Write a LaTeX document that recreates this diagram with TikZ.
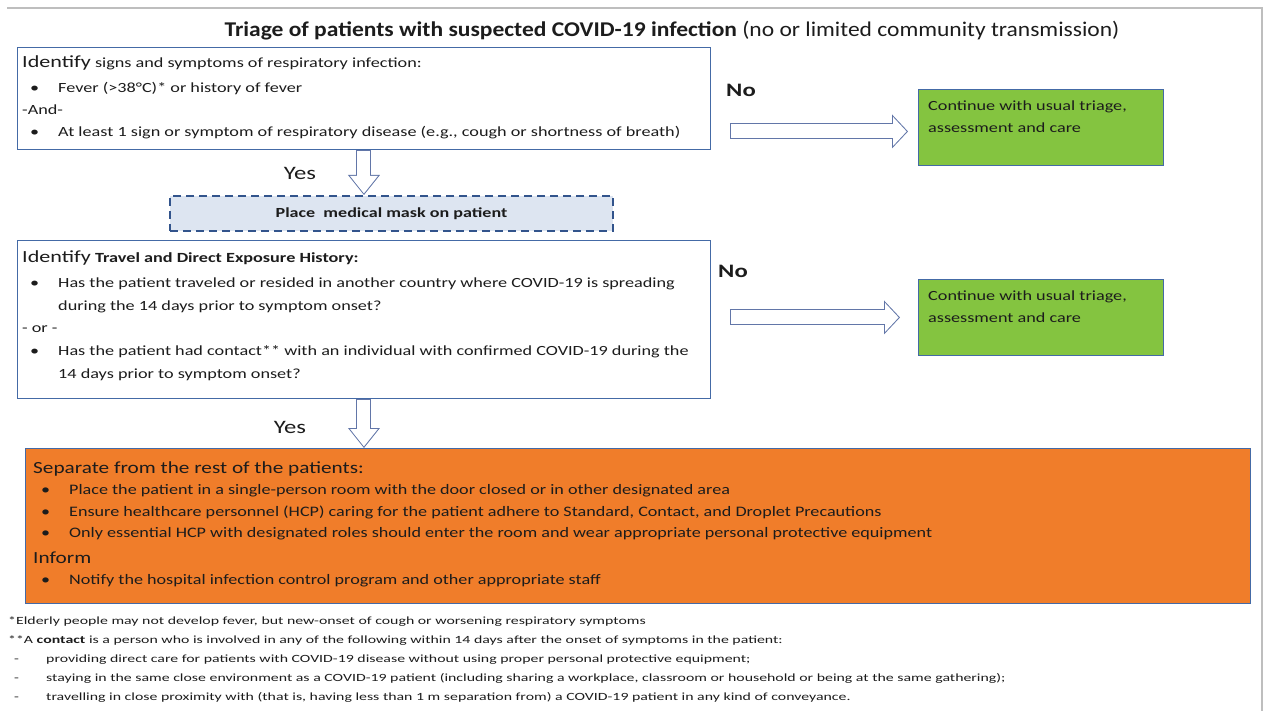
\documentclass[tikz,border=0pt]{standalone}
\usepackage{fontspec}
\setmainfont{Carlito}[FakeStretch=1.3]
\newfontfamily\titlefont{Carlito}[FakeStretch=1.12]
\newfontfamily\sepfont{Carlito}[FakeStretch=1.25]
\newfontfamily\notefont{Carlito}[FakeStretch=1.44]
\usetikzlibrary{arrows.meta,positioning,calc}
\definecolor{edgeblue}{RGB}{68,106,166}
\definecolor{maskblue}{RGB}{50,84,140}
\definecolor{maskfill}{RGB}{221,229,241}
\definecolor{okgreen}{RGB}{132,196,64}
\definecolor{sepor}{RGB}{240,125,42}
\definecolor{arrowedge}{RGB}{98,118,168}
\definecolor{framegray}{RGB}{190,190,190}
\definecolor{ink}{RGB}{28,28,28}
\newcommand{\bul}{\makebox[36pt][l]{\hspace{8pt}\textbullet}}
\newcommand{\ind}{\hspace*{36pt}}
\newcommand{\dsh}{\makebox[38pt][l]{\hspace{6pt}-}}
\tikzset{
  qbox/.style   ={draw=edgeblue,line width=0.9pt,fill=white,anchor=north west,inner sep=0pt},
  gobox/.style  ={qbox,fill=okgreen,minimum width=245,minimum height=76},
  sepbox/.style ={qbox,fill=sepor,minimum width=1225,minimum height=155},
  maskbox/.style={draw=maskblue,line width=2pt,dash pattern=on 8pt off 5pt,fill=maskfill,
                  minimum width=443,minimum height=35,inner sep=0pt,text=ink,
                  font=\bfseries\fontsize{13.9}{16}\selectfont},
  txt/.style    ={anchor=north west,inner sep=0pt,align=left,text=ink},
  answer/.style ={inner sep=0pt,text=ink,font=\fontsize{19}{22}\selectfont},
  rhollow/.style={preaction={draw=arrowedge,line width=16pt,shorten <=0pt,shorten >=0pt,
                    -{Triangle[length=16pt,width=34pt,line width=0pt]}},
                  draw=white,line width=14pt,shorten <=1pt,shorten >=1.4pt,
                  -{Triangle[length=13.6pt,width=29pt,line width=0pt]}},
  dhollow/.style={preaction={draw=arrowedge,line width=15pt,shorten <=0pt,shorten >=0pt,
                    -{Triangle[length=20pt,width=32pt,line width=0pt]}},
                  draw=white,line width=13pt,shorten <=1pt,shorten >=1.6pt,
                  -{Triangle[length=17.4pt,width=27.8pt,line width=0pt]}},
}
\begin{document}
\begin{tikzpicture}[x=1pt,y=-1pt]
  \useasboundingbox (0,0) rectangle (1264,711);
  \draw[framegray,line width=1.2pt] (7,8) -- (1262,8) -- (1262,711);
  \node[inner sep=0pt,text=ink,font=\titlefont\fontsize{21}{24}\selectfont] (title) at (672,31)
    {\textbf{Triage of patients with suspected COVID-19 infection} (no or limited community transmission)};
  % question boxes
  \node[qbox,minimum width=693,minimum height=102] (b1) at (17,47) {};
  \node[txt,font=\fontsize{14}{22}\selectfont] (b1txt) at ([shift={(5,8)}]b1.north west)
    {{\fontsize{17}{22}\selectfont Identify} signs and symptoms of respiratory infection:\\[3pt]
     \bul Fever (>38°C)* or history of fever\\
     -And-\\
     \bul At least 1 sign or symptom of respiratory disease (e.g., cough or shortness of breath)};
  \node[maskbox] (mask) at (391.5,213.5) {Place\ \ medical mask on patient};
  \node[qbox,minimum width=693,minimum height=158] (b2) at (17,240) {};
  \node[txt,font=\fontsize{14}{22.6}\selectfont] (b2txt) at ([shift={(5,10)}]b2.north west)
    {{\fontsize{17}{22}\selectfont Identify} \textbf{Travel and Direct Exposure History:}\\[3pt]
     \bul Has the patient traveled or resided in another country where COVID-19 is spreading\\
     \ind during the 14 days prior to symptom onset?\\
     - or -\\
     \bul Has the patient had contact** with an individual with confirmed COVID-19 during the\\
     \ind 14 days prior to symptom onset?};
  % usual care
  \foreach \name/\y in {g1/89,g2/279}{
    \node[gobox] (\name) at (918,\y) {};
    \node[txt,font=\fontsize{14}{22}\selectfont] (\name txt) at ([shift={(10,12)}]\name.north west)
      {Continue with usual triage,\\assessment and care};
  }
  % isolation
  \node[sepbox] (sep) at (25,448) {};
  \node[txt,font=\sepfont\fontsize{14.5}{21.5}\selectfont] (septxt) at ([shift={(8,13)}]sep.north west)
    {{\fontsize{17}{22}\selectfont Separate from the rest of the patients:}\\
     \bul Place the patient in a single-person room with the door closed or in other designated area\\
     \bul Ensure healthcare personnel (HCP) caring for the patient adhere to Standard, Contact, and Droplet Precautions\\
     \bul Only essential HCP with designated roles should enter the room and wear appropriate personal protective equipment\\[4pt]
     {\fontsize{17}{22}\selectfont Inform}\\
     \bul Notify the hospital infection control program and other appropriate staff};
  % answers and arrows
  \node[answer,font=\bfseries\fontsize{19}{22}\selectfont] (no1) at (741,90) {No};
  \node[answer,font=\bfseries\fontsize{19}{22}\selectfont] (no2) at (733,271) {No};
  \node[answer] (yes1) at (300,173) {Yes};
  \node[answer] (yes2) at (290,427) {Yes};
  \draw[rhollow] ($(b1.east |- g1.west)+(19,4)$) -- ($(g1.west)+(-10,4)$);
  \draw[rhollow] ($(b2.east |- g2.west)+(19,0)$) -- ($(g2.west)+(-18,0)$);
  \draw[dhollow] (b1.south) -- (b1.south |- mask.north);
  \draw[dhollow] (b2.south) -- (b2.south |- sep.north);
  % footnotes
  \node[txt,font=\notefont\fontsize{11}{19}\selectfont] (notes) at (8,616.5)
    {*Elderly people may not develop fever, but new-onset of cough or worsening respiratory symptoms\\
     **A \textbf{contact} is a person who is involved in any of the following within 14 days after the onset of symptoms in the patient:\\
     \dsh providing direct care for patients with COVID-19 disease without using proper personal protective equipment;\\
     \dsh staying in the same close environment as a COVID-19 patient (including sharing a workplace, classroom or household or being at the same gathering);\\
     \dsh travelling in close proximity with (that is, having less than 1 m separation from) a COVID-19 patient in any kind of conveyance.};
\end{tikzpicture}
\end{document}
